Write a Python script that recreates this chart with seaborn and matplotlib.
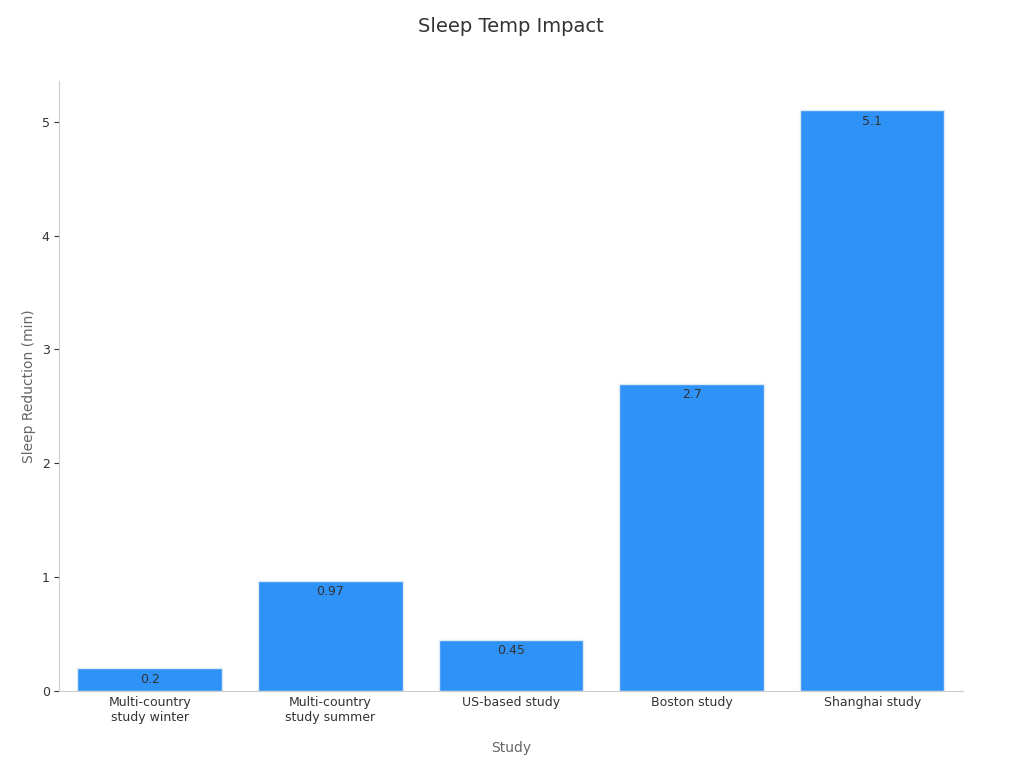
import matplotlib
matplotlib.use("Agg")
import matplotlib.pyplot as plt
import seaborn as sns
import pandas as pd

categories = ["Multi-country\nstudy winter", "Multi-country\nstudy summer", "US-based study", "Boston study", "Shanghai study"]
values = [0.2, 0.97, 0.45, 2.7, 5.1]
labels = ["0.2", "0.97", "0.45", "2.7", "5.1"]

df = pd.DataFrame({"Study": categories, "Sleep Reduction (min)": values})
fig, ax = plt.subplots(figsize=(10.24, 7.68), dpi=100)
fig.subplots_adjust(left=0.058, right=0.94, top=0.895, bottom=0.1)
sns.barplot(data=df, x="Study", y="Sleep Reduction (min)", color="#2f92f7", saturation=1, width=0.8, edgecolor="#dce8f5", linewidth=1, ax=ax)
for i, (v, l) in enumerate(zip(values, labels)):
    ax.text(i, v - 0.04, l, ha="center", va="top", fontsize=9, color="#333333")
ax.set_title("Sleep Temp Impact", fontsize=14, color="#333333", pad=35)
ax.set_xlabel("Study", fontsize=10, color="#666666", labelpad=12)
ax.set_ylabel("Sleep Reduction (min)", fontsize=10, color="#666666")
ax.set_ylim(0, 5.36)
ax.set_xlim(-0.5, 4.5)
ax.tick_params(labelsize=9, colors="#333333")
ax.tick_params(axis="x", length=0)
for s in ["top", "right"]:
    ax.spines[s].set_visible(False)
for s in ["left", "bottom"]:
    ax.spines[s].set_color("#cccccc")
fig.savefig("out.png")
